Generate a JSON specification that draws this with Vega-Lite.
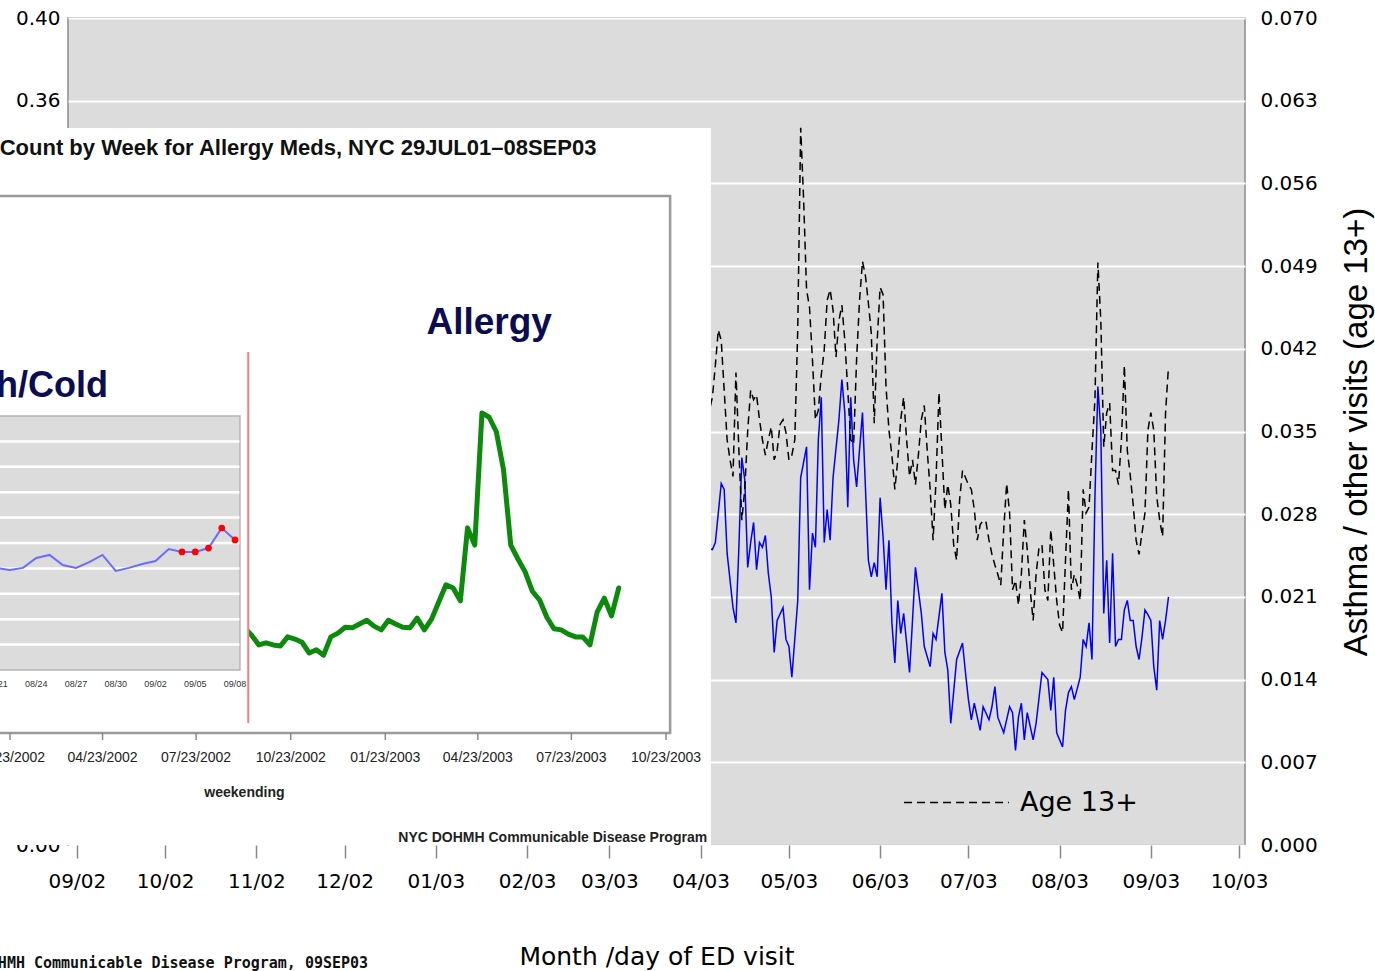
{
"$schema": "https://vega.github.io/schema/vega-lite/v6.json",
"width": 1177, "height": 827,
"autosize": {"type": "none"},
"padding": {"left": 68, "top": 18, "right": 130, "bottom": 126},
"background": "white",
"config": {"view": {"fill": "#dcdcdc", "stroke": "#8c8c8c", "strokeWidth": 1.5}},
"datasets": {
"age13": [
{"t":"2003-04-01","v":0.0360},{"t":"2003-04-03","v":0.0350},{"t":"2003-04-04","v":0.0368},{"t":"2003-04-05","v":0.0379},{"t":"2003-04-06","v":0.0406},{"t":"2003-04-07","v":0.0436},{"t":"2003-04-08","v":0.0427},{"t":"2003-04-09","v":0.0385},{"t":"2003-04-10","v":0.0343},{"t":"2003-04-11","v":0.0326},{"t":"2003-04-12","v":0.0312},{"t":"2003-04-13","v":0.0400},{"t":"2003-04-14","v":0.0334},{"t":"2003-04-15","v":0.0275},{"t":"2003-04-16","v":0.0301},{"t":"2003-04-17","v":0.0351},{"t":"2003-04-18","v":0.0385},{"t":"2003-04-19","v":0.0377},{"t":"2003-04-20","v":0.0381},{"t":"2003-04-21","v":0.0360},{"t":"2003-04-22","v":0.0343},{"t":"2003-04-23","v":0.0330},{"t":"2003-04-24","v":0.0343},{"t":"2003-04-25","v":0.0354},{"t":"2003-04-26","v":0.0326},{"t":"2003-04-27","v":0.0334},{"t":"2003-04-28","v":0.0356},{"t":"2003-04-29","v":0.0360},{"t":"2003-04-30","v":0.0349},
{"t":"2003-05-01","v":0.0326},{"t":"2003-05-02","v":0.0330},{"t":"2003-05-03","v":0.0343},{"t":"2003-05-04","v":0.0436},{"t":"2003-05-05","v":0.0607},{"t":"2003-05-06","v":0.0546},{"t":"2003-05-07","v":0.0470},{"t":"2003-05-08","v":0.0455},{"t":"2003-05-09","v":0.0411},{"t":"2003-05-10","v":0.0360},{"t":"2003-05-11","v":0.0368},{"t":"2003-05-12","v":0.0398},{"t":"2003-05-13","v":0.0419},{"t":"2003-05-14","v":0.0461},{"t":"2003-05-15","v":0.0470},{"t":"2003-05-16","v":0.0453},{"t":"2003-05-17","v":0.0413},{"t":"2003-05-18","v":0.0444},{"t":"2003-05-19","v":0.0457},{"t":"2003-05-20","v":0.0427},{"t":"2003-05-21","v":0.0385},{"t":"2003-05-22","v":0.0343},{"t":"2003-05-23","v":0.0339},{"t":"2003-05-24","v":0.0411},{"t":"2003-05-25","v":0.0461},{"t":"2003-05-26","v":0.0494},{"t":"2003-05-27","v":0.0482},{"t":"2003-05-28","v":0.0459},{"t":"2003-05-29","v":0.0433},{"t":"2003-05-30","v":0.0357},{"t":"2003-05-31","v":0.0427},
{"t":"2003-06-01","v":0.0472},{"t":"2003-06-02","v":0.0466},{"t":"2003-06-03","v":0.0388},{"t":"2003-06-04","v":0.0351},{"t":"2003-06-05","v":0.0330},{"t":"2003-06-06","v":0.0301},{"t":"2003-06-07","v":0.0326},{"t":"2003-06-08","v":0.0360},{"t":"2003-06-09","v":0.0379},{"t":"2003-06-10","v":0.0343},{"t":"2003-06-11","v":0.0312},{"t":"2003-06-12","v":0.0326},{"t":"2003-06-13","v":0.0305},{"t":"2003-06-14","v":0.0330},{"t":"2003-06-15","v":0.0360},{"t":"2003-06-16","v":0.0372},{"t":"2003-06-17","v":0.0334},{"t":"2003-06-18","v":0.0301},{"t":"2003-06-19","v":0.0258},{"t":"2003-06-20","v":0.0309},{"t":"2003-06-21","v":0.0383},{"t":"2003-06-22","v":0.0334},{"t":"2003-06-23","v":0.0284},{"t":"2003-06-24","v":0.0305},{"t":"2003-06-25","v":0.0288},{"t":"2003-06-26","v":0.0254},{"t":"2003-06-27","v":0.0241},{"t":"2003-06-28","v":0.0292},{"t":"2003-06-29","v":0.0317},{"t":"2003-06-30","v":0.0311},
{"t":"2003-07-01","v":0.0305},{"t":"2003-07-02","v":0.0301},{"t":"2003-07-03","v":0.0284},{"t":"2003-07-04","v":0.0258},{"t":"2003-07-05","v":0.0271},{"t":"2003-07-06","v":0.0275},{"t":"2003-07-07","v":0.0273},{"t":"2003-07-08","v":0.0258},{"t":"2003-07-09","v":0.0246},{"t":"2003-07-10","v":0.0237},{"t":"2003-07-11","v":0.0229},{"t":"2003-07-12","v":0.0220},{"t":"2003-07-13","v":0.0267},{"t":"2003-07-14","v":0.0306},{"t":"2003-07-15","v":0.0281},{"t":"2003-07-16","v":0.0216},{"t":"2003-07-17","v":0.0224},{"t":"2003-07-18","v":0.0203},{"t":"2003-07-19","v":0.0229},{"t":"2003-07-20","v":0.0275},{"t":"2003-07-21","v":0.0250},{"t":"2003-07-22","v":0.0216},{"t":"2003-07-23","v":0.0190},{"t":"2003-07-24","v":0.0229},{"t":"2003-07-25","v":0.0252},{"t":"2003-07-26","v":0.0254},{"t":"2003-07-27","v":0.0216},{"t":"2003-07-28","v":0.0207},{"t":"2003-07-29","v":0.0267},{"t":"2003-07-30","v":0.0237},{"t":"2003-07-31","v":0.0207},
{"t":"2003-08-01","v":0.0186},{"t":"2003-08-02","v":0.0180},{"t":"2003-08-03","v":0.0241},{"t":"2003-08-04","v":0.0301},{"t":"2003-08-05","v":0.0216},{"t":"2003-08-06","v":0.0229},{"t":"2003-08-07","v":0.0220},{"t":"2003-08-08","v":0.0207},{"t":"2003-08-09","v":0.0301},{"t":"2003-08-10","v":0.0281},{"t":"2003-08-11","v":0.0286},{"t":"2003-08-12","v":0.0334},{"t":"2003-08-13","v":0.0377},{"t":"2003-08-14","v":0.0493},{"t":"2003-08-15","v":0.0444},{"t":"2003-08-16","v":0.0337},{"t":"2003-08-17","v":0.0366},{"t":"2003-08-18","v":0.0374},{"t":"2003-08-19","v":0.0317},{"t":"2003-08-20","v":0.0317},{"t":"2003-08-21","v":0.0305},{"t":"2003-08-22","v":0.0343},{"t":"2003-08-23","v":0.0406},{"t":"2003-08-24","v":0.0334},{"t":"2003-08-25","v":0.0313},{"t":"2003-08-26","v":0.0288},{"t":"2003-08-27","v":0.0258},{"t":"2003-08-28","v":0.0246},{"t":"2003-08-29","v":0.0264},{"t":"2003-08-30","v":0.0281},{"t":"2003-08-31","v":0.0351},
{"t":"2003-09-01","v":0.0366},{"t":"2003-09-02","v":0.0351},{"t":"2003-09-03","v":0.0295},{"t":"2003-09-04","v":0.0275},{"t":"2003-09-05","v":0.0261},{"t":"2003-09-06","v":0.0366},{"t":"2003-09-07","v":0.0405}
],
"other": [
{"t":"2003-04-01","v":0.0255},{"t":"2003-04-03","v":0.0237},{"t":"2003-04-04","v":0.0251},{"t":"2003-04-05","v":0.0250},{"t":"2003-04-06","v":0.0256},{"t":"2003-04-08","v":0.0306},{"t":"2003-04-09","v":0.0301},{"t":"2003-04-10","v":0.0247},{"t":"2003-04-12","v":0.0201},{"t":"2003-04-13","v":0.0188},{"t":"2003-04-14","v":0.0252},{"t":"2003-04-15","v":0.0328},{"t":"2003-04-16","v":0.0309},{"t":"2003-04-17","v":0.0235},{"t":"2003-04-18","v":0.0256},{"t":"2003-04-19","v":0.0273},{"t":"2003-04-20","v":0.0233},{"t":"2003-04-21","v":0.0256},{"t":"2003-04-22","v":0.0252},{"t":"2003-04-23","v":0.0262},{"t":"2003-04-24","v":0.0230},{"t":"2003-04-25","v":0.0210},{"t":"2003-04-26","v":0.0163},{"t":"2003-04-27","v":0.0190},{"t":"2003-04-29","v":0.0201},{"t":"2003-04-30","v":0.0174},
{"t":"2003-05-01","v":0.0168},{"t":"2003-05-02","v":0.0142},{"t":"2003-05-04","v":0.0207},{"t":"2003-05-05","v":0.0311},{"t":"2003-05-07","v":0.0337},{"t":"2003-05-08","v":0.0216},{"t":"2003-05-09","v":0.0264},{"t":"2003-05-10","v":0.0252},{"t":"2003-05-11","v":0.0343},{"t":"2003-05-12","v":0.0379},{"t":"2003-05-13","v":0.0256},{"t":"2003-05-14","v":0.0284},{"t":"2003-05-15","v":0.0258},{"t":"2003-05-16","v":0.0311},{"t":"2003-05-18","v":0.0360},{"t":"2003-05-19","v":0.0394},{"t":"2003-05-20","v":0.0366},{"t":"2003-05-21","v":0.0286},{"t":"2003-05-22","v":0.0379},{"t":"2003-05-23","v":0.0326},{"t":"2003-05-24","v":0.0303},{"t":"2003-05-26","v":0.0366},{"t":"2003-05-27","v":0.0303},{"t":"2003-05-28","v":0.0241},{"t":"2003-05-29","v":0.0227},{"t":"2003-05-30","v":0.0239},{"t":"2003-05-31","v":0.0227},
{"t":"2003-06-01","v":0.0294},{"t":"2003-06-02","v":0.0261},{"t":"2003-06-03","v":0.0216},{"t":"2003-06-04","v":0.0258},{"t":"2003-06-05","v":0.0188},{"t":"2003-06-06","v":0.0154},{"t":"2003-06-07","v":0.0207},{"t":"2003-06-08","v":0.0179},{"t":"2003-06-09","v":0.0196},{"t":"2003-06-11","v":0.0146},{"t":"2003-06-12","v":0.0190},{"t":"2003-06-13","v":0.0235},{"t":"2003-06-15","v":0.0196},{"t":"2003-06-16","v":0.0168},{"t":"2003-06-18","v":0.0151},{"t":"2003-06-19","v":0.0179},{"t":"2003-06-20","v":0.0174},{"t":"2003-06-22","v":0.0213},{"t":"2003-06-23","v":0.0163},{"t":"2003-06-24","v":0.0148},{"t":"2003-06-25","v":0.0103},{"t":"2003-06-27","v":0.0157},{"t":"2003-06-29","v":0.0171},{"t":"2003-06-30","v":0.0146},
{"t":"2003-07-01","v":0.0123},{"t":"2003-07-02","v":0.0106},{"t":"2003-07-03","v":0.0120},{"t":"2003-07-05","v":0.0097},{"t":"2003-07-06","v":0.0117},{"t":"2003-07-08","v":0.0106},{"t":"2003-07-09","v":0.0117},{"t":"2003-07-10","v":0.0134},{"t":"2003-07-11","v":0.0108},{"t":"2003-07-13","v":0.0095},{"t":"2003-07-15","v":0.0117},{"t":"2003-07-16","v":0.0112},{"t":"2003-07-17","v":0.0080},{"t":"2003-07-18","v":0.0108},{"t":"2003-07-19","v":0.0120},{"t":"2003-07-20","v":0.0089},{"t":"2003-07-21","v":0.0112},{"t":"2003-07-23","v":0.0089},{"t":"2003-07-24","v":0.0103},{"t":"2003-07-26","v":0.0146},{"t":"2003-07-28","v":0.0140},{"t":"2003-07-29","v":0.0114},{"t":"2003-07-30","v":0.0142},{"t":"2003-07-31","v":0.0095},
{"t":"2003-08-02","v":0.0083},{"t":"2003-08-03","v":0.0114},{"t":"2003-08-04","v":0.0129},{"t":"2003-08-05","v":0.0134},{"t":"2003-08-06","v":0.0123},{"t":"2003-08-08","v":0.0142},{"t":"2003-08-09","v":0.0174},{"t":"2003-08-10","v":0.0168},{"t":"2003-08-11","v":0.0188},{"t":"2003-08-12","v":0.0157},{"t":"2003-08-13","v":0.0294},{"t":"2003-08-14","v":0.0388},{"t":"2003-08-15","v":0.0351},{"t":"2003-08-16","v":0.0196},{"t":"2003-08-17","v":0.0241},{"t":"2003-08-18","v":0.0171},{"t":"2003-08-19","v":0.0247},{"t":"2003-08-20","v":0.0168},{"t":"2003-08-21","v":0.0174},{"t":"2003-08-22","v":0.0174},{"t":"2003-08-23","v":0.0199},{"t":"2003-08-24","v":0.0207},{"t":"2003-08-25","v":0.0190},{"t":"2003-08-26","v":0.0190},{"t":"2003-08-27","v":0.0168},{"t":"2003-08-28","v":0.0157},{"t":"2003-08-29","v":0.0176},{"t":"2003-08-30","v":0.0199},{"t":"2003-08-31","v":0.0195},
{"t":"2003-09-01","v":0.0190},{"t":"2003-09-02","v":0.0151},{"t":"2003-09-03","v":0.0131},{"t":"2003-09-04","v":0.0190},{"t":"2003-09-05","v":0.0174},{"t":"2003-09-06","v":0.0190},{"t":"2003-09-07","v":0.0210}
],
"allergy": [
{"t":"2002-09-01","n":1005},{"t":"2002-09-08","n":980},{"t":"2002-09-15","n":910},{"t":"2002-09-22","n":820},{"t":"2002-09-29","n":840},{"t":"2002-10-06","n":820},{"t":"2002-10-13","n":810},{"t":"2002-10-20","n":895},{"t":"2002-10-27","n":875},{"t":"2002-11-03","n":845},{"t":"2002-11-10","n":745},{"t":"2002-11-17","n":775},{"t":"2002-11-24","n":725},{"t":"2002-12-01","n":895},{"t":"2002-12-08","n":930},{"t":"2002-12-15","n":985},{"t":"2002-12-22","n":980},{"t":"2002-12-29","n":1015},{"t":"2003-01-05","n":1050},{"t":"2003-01-12","n":995},{"t":"2003-01-19","n":960},{"t":"2003-01-26","n":1050},{"t":"2003-02-02","n":1015},{"t":"2003-02-09","n":985},{"t":"2003-02-16","n":980},{"t":"2003-02-23","n":1070},{"t":"2003-03-02","n":960},{"t":"2003-03-09","n":1060},{"t":"2003-03-16","n":1220},{"t":"2003-03-23","n":1380},{"t":"2003-03-30","n":1350},{"t":"2003-04-06","n":1230},{"t":"2003-04-13","n":1910},{"t":"2003-04-20","n":1750},{"t":"2003-04-27","n":2980},{"t":"2003-05-04","n":2940},{"t":"2003-05-11","n":2805},{"t":"2003-05-18","n":2450},{"t":"2003-05-25","n":1750},{"t":"2003-06-01","n":1620},{"t":"2003-06-08","n":1500},{"t":"2003-06-15","n":1320},{"t":"2003-06-22","n":1240},{"t":"2003-06-29","n":1080},{"t":"2003-07-06","n":970},{"t":"2003-07-13","n":960},{"t":"2003-07-20","n":920},{"t":"2003-07-27","n":895},{"t":"2003-08-03","n":895},{"t":"2003-08-10","n":820},{"t":"2003-08-17","n":1125},{"t":"2003-08-24","n":1255},{"t":"2003-08-31","n":1090},{"t":"2003-09-07","n":1350}
],
"insetTicks": [
{"t":"2002-01-23","lab":"01/23/2002"},{"t":"2002-04-23","lab":"04/23/2002"},{"t":"2002-07-23","lab":"07/23/2002"},{"t":"2002-10-23","lab":"10/23/2002"},{"t":"2003-01-23","lab":"01/23/2003"},{"t":"2003-04-23","lab":"04/23/2003"},{"t":"2003-07-23","lab":"07/23/2003"},{"t":"2003-10-23","lab":"10/23/2003"}
],
"cough": [
{"t":"2003-08-21","c":4.02,"alert":false},{"t":"2003-08-22","c":3.94,"alert":false},{"t":"2003-08-23","c":4.02,"alert":false},{"t":"2003-08-24","c":4.41,"alert":false},{"t":"2003-08-25","c":4.53,"alert":false},{"t":"2003-08-26","c":4.13,"alert":false},{"t":"2003-08-27","c":4.02,"alert":false},{"t":"2003-08-28","c":4.25,"alert":false},{"t":"2003-08-29","c":4.53,"alert":false},{"t":"2003-08-30","c":3.90,"alert":false},{"t":"2003-08-31","c":4.02,"alert":false},{"t":"2003-09-01","c":4.17,"alert":false},{"t":"2003-09-02","c":4.29,"alert":false},{"t":"2003-09-03","c":4.76,"alert":false},{"t":"2003-09-04","c":4.65,"alert":true},{"t":"2003-09-05","c":4.65,"alert":true},{"t":"2003-09-06","c":4.80,"alert":true},{"t":"2003-09-07","c":5.59,"alert":true},{"t":"2003-09-08","c":5.12,"alert":true}
],
"coughTicks": [
{"t":"2003-08-21","lab":"08/21"},{"t":"2003-08-24","lab":"08/24"},{"t":"2003-08-27","lab":"08/27"},{"t":"2003-08-30","lab":"08/30"},{"t":"2003-09-02","lab":"09/02"},{"t":"2003-09-05","lab":"09/05"},{"t":"2003-09-08","lab":"09/08"}
]
},
"layer": [
{
"layer": [
{"layer": [
{"data": {"name": "other"},
 "mark": {"type": "line", "color": "#0000ff", "strokeWidth": 1.5},
 "encoding": {
  "x": {"field": "t", "type": "temporal", "scale": {"type": "utc", "domain": ["2002-08-29", "2003-10-03"]},
   "axis": {"format": "%m/%y", "tickCount": {"interval": "month", "step": 1}, "labelFont": "DejaVu Sans", "labelFontSize": 20, "labelColor": "#000", "tickSize": 13, "tickColor": "#888", "tickWidth": 1.5, "domain": false, "grid": false, "labelPadding": 13, "labelOverlap": false, "labelFlush": false, "title": "Month /day of ED visit", "titleFont": "DejaVu Sans", "titleFontSize": 25, "titleFontWeight": "normal", "titleColor": "#000", "titlePadding": 53}},
  "y": {"field": "v", "type": "quantitative", "scale": {"domain": [0, 0.07]},
   "axis": {"orient": "right", "values": [0, 0.007, 0.014, 0.021, 0.028, 0.035, 0.042, 0.049, 0.056, 0.063, 0.07], "format": ".3f", "labelFont": "DejaVu Sans", "labelFontSize": 20, "labelColor": "#000", "ticks": false, "domain": false, "labelPadding": 15, "grid": true, "gridColor": "#ffffff", "gridWidth": 2, "title": "Asthma / other visits (age 13+)", "titleFont": "Liberation Sans", "titleFontSize": 33, "titleFontWeight": "normal", "titleColor": "#000", "titleAngle": 270, "titlePadding": 56}}
 }},
{"data": {"name": "age13"},
 "mark": {"type": "line", "color": "#000000", "strokeWidth": 1.5},
 "encoding": {
  "x": {"field": "t", "type": "temporal", "scale": {"type": "utc", "domain": ["2002-08-29", "2003-10-03"]}},
  "y": {"field": "v", "type": "quantitative", "scale": {"domain": [0, 0.07]}},
  "strokeDash": {"datum": "Age 13+", "type": "nominal", "scale": {"range": [[8, 5]]},
   "legend": {"orient": "none", "legendX": 835, "legendY": 731, "title": null, "symbolType": "stroke", "symbolSize": 11000, "symbolStrokeColor": "#000", "symbolStrokeWidth": 1.5, "labelFont": "DejaVu Sans", "labelFontSize": 27, "labelColor": "#000", "labelOffset": 10, "padding": 0}}
 }}
]},
{"layer": [
{"data": {"values": [{"t0": "2002-08-05", "t1": "2003-04-04T12:00:00Z", "v0": 0, "v1": 0.3468}]},
 "mark": {"type": "rect", "color": "#ffffff"},
 "encoding": {
  "x": {"field": "t0", "type": "temporal", "scale": {"type": "utc", "domain": ["2002-08-29", "2003-10-03"]}},
  "x2": {"field": "t1"},
  "y": {"field": "v0", "type": "quantitative", "scale": {"domain": [0, 0.4]},
   "axis": {"orient": "left", "values": [0, 0.04, 0.08, 0.12, 0.16, 0.2, 0.24, 0.28, 0.32, 0.36, 0.4], "format": ".2f", "labelFont": "DejaVu Sans", "labelFontSize": 20, "labelColor": "#000", "ticks": false, "domain": false, "grid": false, "labelPadding": 8, "title": null}},
  "y2": {"field": "v1"}
 }},
{"data": {"values": [{"t": "2002-12-09", "v": -0.0572, "label": "NYC DOHMH Communicable Disease Program, 09SEP03"}]},
 "mark": {"type": "text", "align": "right", "baseline": "middle", "font": "DejaVu Sans Mono", "fontSize": 15, "fontWeight": "bold", "color": "#111"},
 "encoding": {
  "x": {"field": "t", "type": "temporal", "scale": {"type": "utc", "domain": ["2002-08-29", "2003-10-03"]}},
  "y": {"field": "v", "type": "quantitative", "scale": {"domain": [0, 0.4]}},
  "text": {"field": "label"}
 }}
]}
],
"resolve": {"scale": {"y": "independent"}}
},
{
"layer": [
{"data": {"values": [{"t0": "2001-07-01", "t1": "2003-10-27", "c0": 0, "c1": 5000}]},
 "mark": {"type": "rect", "fill": "#ffffff", "stroke": "#9a9a9a", "strokeWidth": 2.5},
 "encoding": {
  "x": {"field": "t0", "type": "temporal", "scale": {"type": "utc", "domain": ["2002-01-23", "2003-10-23"], "range": [-58, 598]}, "axis": null},
  "x2": {"field": "t1"},
  "y": {"field": "c0", "type": "quantitative", "scale": {"domain": [0, 5000], "range": [715, 178]}, "axis": null},
  "y2": {"field": "c1"}
 }},
{"data": {"name": "insetTicks"},
 "mark": {"type": "rule", "color": "#8a8a8a", "strokeWidth": 1.5},
 "encoding": {
  "x": {"field": "t", "type": "temporal", "scale": {"type": "utc", "domain": ["2002-01-23", "2003-10-23"], "range": [-58, 598]}, "axis": null},
  "y": {"datum": 0, "type": "quantitative", "scale": {"domain": [0, 5000], "range": [715, 178]}, "axis": null},
  "y2": {"datum": -65}
 }},
{"data": {"name": "insetTicks"},
 "mark": {"type": "text", "align": "center", "baseline": "middle", "font": "Liberation Sans", "fontSize": 14, "color": "#222"},
 "encoding": {
  "x": {"field": "t", "type": "temporal", "scale": {"type": "utc", "domain": ["2002-01-23", "2003-10-23"], "range": [-58, 598]}, "axis": null},
  "y": {"datum": -233, "type": "quantitative", "scale": {"domain": [0, 5000], "range": [715, 178]}, "axis": null},
  "text": {"field": "lab"}
 }},
{"data": {"name": "allergy"},
 "mark": {"type": "line", "color": "#0b8a0b", "strokeWidth": 5, "strokeJoin": "round", "strokeCap": "round"},
 "encoding": {
  "x": {"field": "t", "type": "temporal", "scale": {"type": "utc", "domain": ["2002-01-23", "2003-10-23"], "range": [-58, 598]}, "axis": null},
  "y": {"field": "n", "type": "quantitative", "scale": {"domain": [0, 5000], "range": [715, 178]}, "axis": null}
 }},
{"data": {"values": [{"t": "2002-01-13", "n": 5447, "label": "Count by Week for Allergy Meds, NYC 29JUL01\u201308SEP03"}]},
 "mark": {"type": "text", "align": "left", "baseline": "middle", "font": "Liberation Sans", "fontSize": 22, "fontWeight": "bold", "color": "#111"},
 "encoding": {
  "x": {"field": "t", "type": "temporal", "scale": {"type": "utc", "domain": ["2002-01-23", "2003-10-23"], "range": [-58, 598]}, "axis": null},
  "y": {"field": "n", "type": "quantitative", "scale": {"domain": [0, 5000], "range": [715, 178]}, "axis": null},
  "text": {"field": "label"}
 }},
{"data": {"values": [{"t": "2003-05-04", "n": 3817, "label": "Allergy"}]},
 "mark": {"type": "text", "align": "center", "baseline": "middle", "font": "Liberation Sans", "fontSize": 37, "fontWeight": "bold", "color": "#0c0c52"},
 "encoding": {
  "x": {"field": "t", "type": "temporal", "scale": {"type": "utc", "domain": ["2002-01-23", "2003-10-23"], "range": [-58, 598]}, "axis": null},
  "y": {"field": "n", "type": "quantitative", "scale": {"domain": [0, 5000], "range": [715, 178]}, "axis": null},
  "text": {"field": "label"}
 }},
{"data": {"values": [{"t": "2002-09-08", "n": -559, "label": "weekending"}]},
 "mark": {"type": "text", "align": "center", "baseline": "middle", "font": "Liberation Sans", "fontSize": 14, "fontWeight": "bold", "color": "#222"},
 "encoding": {
  "x": {"field": "t", "type": "temporal", "scale": {"type": "utc", "domain": ["2002-01-23", "2003-10-23"], "range": [-58, 598]}, "axis": null},
  "y": {"field": "n", "type": "quantitative", "scale": {"domain": [0, 5000], "range": [715, 178]}, "axis": null},
  "text": {"field": "label"}
 }},
{"data": {"values": [{"t": "2003-12-02", "n": -978, "label": "NYC DOHMH Communicable Disease Program"}]},
 "mark": {"type": "text", "align": "right", "baseline": "middle", "font": "Liberation Sans", "fontSize": 14, "fontWeight": "bold", "color": "#222"},
 "encoding": {
  "x": {"field": "t", "type": "temporal", "scale": {"type": "utc", "domain": ["2002-01-23", "2003-10-23"], "range": [-58, 598]}, "axis": null},
  "y": {"field": "n", "type": "quantitative", "scale": {"domain": [0, 5000], "range": [715, 178]}, "axis": null},
  "text": {"field": "label"}
 }}
]
},
{
"layer": [
{"data": {"values": [{"t0": "2003-08-10", "t1": "2003-09-09", "c0": -2.09, "c1": 12.52}]},
 "mark": {"type": "rect", "fill": "#ffffff"},
 "encoding": {
  "x": {"field": "t0", "type": "temporal", "scale": {"type": "utc", "domain": ["2003-08-21", "2003-09-08"], "range": [-71.5, 167]}, "axis": null},
  "x2": {"field": "t1"},
  "y": {"field": "c0", "type": "quantitative", "scale": {"domain": [0, 10], "range": [652, 398]}, "axis": null},
  "y2": {"field": "c1"}
 }},
{"data": {"values": [{"t0": "2003-08-10", "t1": "2003-09-08T09:00:00Z", "c0": 0, "c1": 10}]},
 "mark": {"type": "rect", "fill": "#dcdcdc", "stroke": "#b5b5b5", "strokeWidth": 1.5},
 "encoding": {
  "x": {"field": "t0", "type": "temporal", "scale": {"type": "utc", "domain": ["2003-08-21", "2003-09-08"], "range": [-71.5, 167]}, "axis": null},
  "x2": {"field": "t1"},
  "y": {"field": "c0", "type": "quantitative", "scale": {"domain": [0, 10], "range": [652, 398]}, "axis": null},
  "y2": {"field": "c1"}
 }},
{"data": {"values": [{"c": 1}, {"c": 2}, {"c": 3}, {"c": 4}, {"c": 5}, {"c": 6}, {"c": 7}, {"c": 8}, {"c": 9}]},
 "mark": {"type": "rule", "color": "#ffffff", "strokeWidth": 2.5},
 "encoding": {
  "x": {"datum": {"year": 2003, "month": 8, "date": 10, "utc": true}, "type": "temporal", "scale": {"type": "utc", "domain": ["2003-08-21", "2003-09-08"], "range": [-71.5, 167]}, "axis": null},
  "x2": {"datum": {"year": 2003, "month": 9, "date": 8, "hours": 8, "utc": true}},
  "y": {"field": "c", "type": "quantitative", "scale": {"domain": [0, 10], "range": [652, 398]}, "axis": null}
 }},
{"data": {"name": "cough"},
 "mark": {"type": "line", "color": "#6b6bff", "strokeWidth": 2},
 "encoding": {
  "x": {"field": "t", "type": "temporal", "scale": {"type": "utc", "domain": ["2003-08-21", "2003-09-08"], "range": [-71.5, 167]}, "axis": null},
  "y": {"field": "c", "type": "quantitative", "scale": {"domain": [0, 10], "range": [652, 398]}, "axis": null}
 }},
{"data": {"name": "cough"},
 "transform": [{"filter": {"field": "alert", "equal": true}}],
 "mark": {"type": "circle", "color": "#ff0000", "size": 45, "opacity": 1},
 "encoding": {
  "x": {"field": "t", "type": "temporal", "scale": {"type": "utc", "domain": ["2003-08-21", "2003-09-08"], "range": [-71.5, 167]}, "axis": null},
  "y": {"field": "c", "type": "quantitative", "scale": {"domain": [0, 10], "range": [652, 398]}, "axis": null}
 }},
{"data": {"name": "coughTicks"},
 "mark": {"type": "text", "align": "center", "baseline": "middle", "font": "Liberation Sans", "fontSize": 9, "color": "#333"},
 "encoding": {
  "x": {"field": "t", "type": "temporal", "scale": {"type": "utc", "domain": ["2003-08-21", "2003-09-08"], "range": [-71.5, 167]}, "axis": null},
  "y": {"datum": -0.55, "type": "quantitative", "scale": {"domain": [0, 10], "range": [652, 398]}, "axis": null},
  "text": {"field": "lab"}
 }},
{"data": {"values": [{"t": "2003-09-09", "c0": -2.09, "c1": 12.52}]},
 "mark": {"type": "rule", "color": "#ff7a7a", "strokeWidth": 2},
 "encoding": {
  "x": {"field": "t", "type": "temporal", "scale": {"type": "utc", "domain": ["2003-08-21", "2003-09-08"], "range": [-71.5, 167]}, "axis": null},
  "y": {"field": "c0", "type": "quantitative", "scale": {"domain": [0, 10], "range": [652, 398]}, "axis": null},
  "y2": {"field": "c1"}
 }},
{"data": {"values": [{"t": "2003-08-29T10:00:00Z", "c": 11.18, "label": "Cough/Cold"}]},
 "mark": {"type": "text", "align": "right", "baseline": "middle", "font": "Liberation Sans", "fontSize": 36, "fontWeight": "bold", "color": "#0c0c52"},
 "encoding": {
  "x": {"field": "t", "type": "temporal", "scale": {"type": "utc", "domain": ["2003-08-21", "2003-09-08"], "range": [-71.5, 167]}, "axis": null},
  "y": {"field": "c", "type": "quantitative", "scale": {"domain": [0, 10], "range": [652, 398]}, "axis": null},
  "text": {"field": "label"}
 }}
]
}
],
"resolve": {"scale": {"x": "independent", "y": "independent"}}
}
